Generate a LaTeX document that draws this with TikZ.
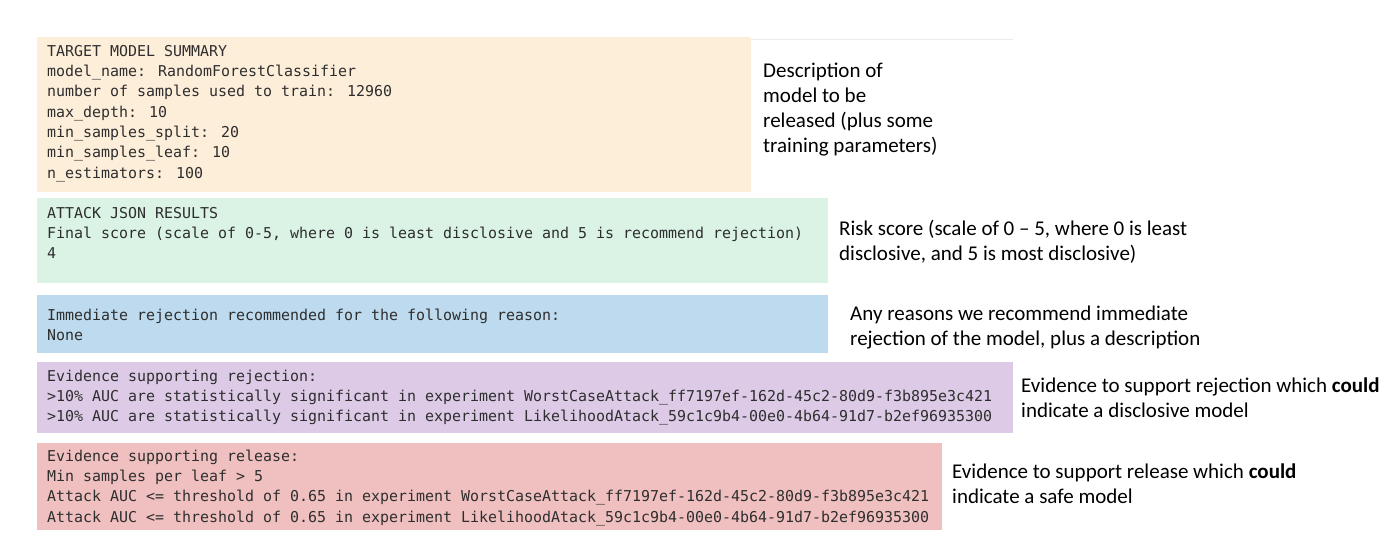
\documentclass[tikz,border=0pt]{standalone}
\usepackage{fontspec}
\setmainfont{Carlito}
\newfontfamily\codefont{DejaVu Sans Mono}
\definecolor{summaryfill}{HTML}{FDEEDA}
\definecolor{scorefill}{HTML}{DAF3E5}
\definecolor{reasonfill}{HTML}{BDDAEE}
\definecolor{rejectfill}{HTML}{DCCAE6}
\definecolor{releasefill}{HTML}{F0C0C0}
\definecolor{codegray}{HTML}{2E2E2E}

\begin{document}
\begin{tikzpicture}[x=1pt, y=-1pt,
  code/.style={anchor=base west, inner sep=0pt, align=left, text=codegray,
    font=\codefont\fontsize{14.95}{20.3}\selectfont},
  note/.style={anchor=base west, inner sep=0pt, align=left,
    font=\fontsize{21}{25}\selectfont}]
\useasboundingbox (0,0) rectangle (1397,551);
% coloured panels
\fill[summaryfill] (37,37) rectangle (751,192);
\fill[scorefill] (37,198) rectangle (828,283);
\fill[reasonfill] (37,295) rectangle (828,353);
\fill[rejectfill] (37,362) rectangle (1013,433);
\fill[releasefill] (37,443) rectangle (942,530);
\draw[black!8] (751,39) -- (1013,39);
% report text (placed by the baseline of the last line)
\node[code] (summary) at (47,178) {TARGET MODEL SUMMARY\\
  model\_name: RandomForestClassifier\\
  number of samples used to train: 12960\\
  max\_depth: 10\\
  min\_samples\_split: 20\\
  min\_samples\_leaf: 10\\
  n\_estimators: 100};
\node[code] (score) at (47,258.6) {ATTACK JSON RESULTS\\
  Final score (scale of 0-5, where 0 is least disclosive and 5 is recommend rejection)\\
  4};
\node[code] (reason) at (47,340.3) {Immediate rejection recommended for the following reason:\\
  None};
\node[code] (reject) at (47,421.6) {Evidence supporting rejection:\\
  >10\% AUC are statistically significant in experiment WorstCaseAttack\_ff7197ef-162d-45c2-80d9-f3b895e3c421\\
  >10\% AUC are statistically significant in experiment LikelihoodAtack\_59c1c9b4-00e0-4b64-91d7-b2ef96935300};
\node[code] (release) at (47,522) {Evidence supporting release:\\
  Min samples per leaf > 5\\
  Attack AUC <= threshold of 0.65 in experiment WorstCaseAttack\_ff7197ef-162d-45c2-80d9-f3b895e3c421\\
  Attack AUC <= threshold of 0.65 in experiment LikelihoodAtack\_59c1c9b4-00e0-4b64-91d7-b2ef96935300};
% explanations
\node[note] (summarynote) at (763,152) {Description of\\ model to be\\ released (plus some\\ training parameters)};
\node[note] (scorenote) at (839,260) {Risk score (scale of 0 – 5, where 0 is least\\ disclosive, and 5 is most disclosive)};
\node[note] (reasonnote) at (850,345) {Any reasons we recommend immediate\\ rejection of the model, plus a description};
\node[note] (rejectnote) at (1021,417) {Evidence to support rejection which \textbf{could}\\ indicate a disclosive model};
\node[note] (releasenote) at (952,503) {Evidence to support release which \textbf{could}\\ indicate a safe model};
\end{tikzpicture}
\end{document}
